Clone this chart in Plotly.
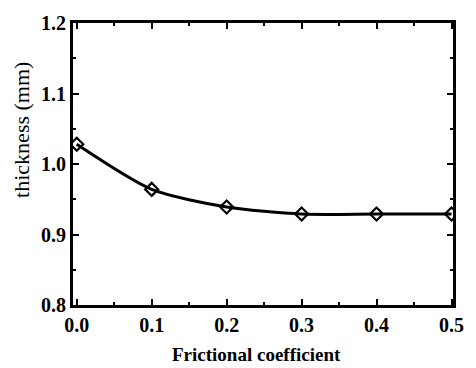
import plotly.graph_objects as go

friction = [0.0, 0.1, 0.2, 0.3, 0.4, 0.5]
thickness = [1.028, 0.964, 0.939, 0.929, 0.929, 0.929]
xticks = [0.0, 0.1, 0.2, 0.3, 0.4, 0.5]
yticks = [0.8, 0.9, 1.0, 1.1, 1.2]

fig = go.Figure()
fig.add_trace(go.Scatter(
    x=friction, y=thickness, mode="lines",
    line=dict(color="black", width=3, shape="spline", smoothing=0.7),
    showlegend=False, hoverinfo="skip"))
fig.add_trace(go.Scatter(
    x=friction, y=thickness, mode="markers",
    marker=dict(symbol="diamond-open", size=10, color="black", line=dict(width=2.2, color="black")),
    showlegend=False))

tf = dict(family="Liberation Serif", color="black", size=20)
fig.update_layout(
    width=476, height=368,
    margin=dict(l=73, r=13, t=15, b=63),
    plot_bgcolor="white", paper_bgcolor="white",
    font=tf,
    xaxis=dict(range=[-0.005, 0.502], tickvals=xticks,
               ticktext=["<b>%.1f</b>" % v for v in xticks],
               tickfont=tf,
               ticks="inside", ticklen=6, tickwidth=2, tickcolor="black",
               minor=dict(dtick=0.05, tick0=0, ticks="inside", ticklen=3, tickwidth=2, tickcolor="black"),
               showline=True, linecolor="black", linewidth=3, mirror="allticks",
               showgrid=False, zeroline=False),
    yaxis=dict(range=[0.8, 1.2], tickvals=yticks,
               ticktext=["<b>%.1f</b>" % v for v in yticks],
               tickfont=tf,
               ticks="inside", ticklen=6, tickwidth=2, tickcolor="black",
               minor=dict(dtick=0.05, tick0=0.8, ticks="inside", ticklen=3, tickwidth=2, tickcolor="black"),
               showline=True, linecolor="black", linewidth=3, mirror="allticks",
               showgrid=False, zeroline=False),
    annotations=[
        dict(text="<b>Frictional coefficient</b>", xref="paper", yref="paper",
             x=0.482, y=0, yshift=-49, xanchor="center", yanchor="middle", showarrow=False,
             font=dict(family="Liberation Serif", color="black", size=19)),
        dict(text="thickness (mm)", xref="paper", yref="paper",
             x=0, y=0.621, xshift=-51, xanchor="center", yanchor="middle", textangle=-90,
             showarrow=False, font=dict(family="Liberation Serif", color="black", size=22)),
    ],
)
fig.write_html("out.html")
